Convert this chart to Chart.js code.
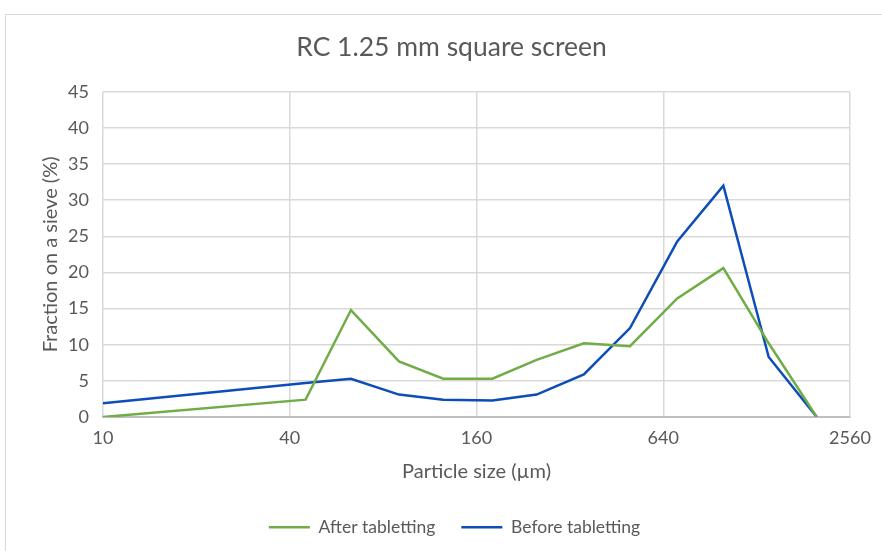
<!DOCTYPE html>
<html>
<head>
<meta charset="utf-8">
<script src="https://cdn.jsdelivr.net/npm/chart.js@4"></script>
<style>
body{margin:0;background:#fff;overflow:hidden;}
#frame{position:absolute;left:5px;top:14px;width:900px;height:560px;border:1px solid #d9d9d9;box-sizing:border-box;}
#wrap{position:absolute;left:0;top:0;width:882px;height:551px;}
</style>
</head>
<body>
<div id="frame"></div>
<div id="wrap"><canvas id="mychart"></canvas></div>
<script>
// particle sizes (um) on each sieve
var sizes=[10,45,63,90,125,180,250,355,500,710,1000,1400,2000]
var after=[0,2.4,14.8,7.7,5.3,5.3,7.9,10.2,9.8,16.4,20.6,10.2,0]
var before=[1.9,4.7,5.3,3.1,2.4,2.3,3.1,5.9,12.3,24.3,32,8.3,0]
var xTicks=[10,40,160,640,2560]

var font="Lato, 'Open Sans', sans-serif"
var grey="#595959"

function pts(vals){
  var out=[]
  for(var i=0;i<sizes.length;i++) out.push({x:sizes[i],y:vals[i]})
  return out
}

// excel centres title + legend on the whole frame, which runs past the window
var shiftBoxes={
  id:'shiftBoxes',
  afterLayout:function(c){
    if(c.titleBlock){ c.titleBlock.left+=24; c.titleBlock.right+=24 }
    if(c.legend){ c.legend.left+=27; c.legend.right+=27 }
  }
}

var ctx=document.getElementById('mychart').getContext('2d')
var chart=new Chart(ctx,{
  type:'line',
  data:{
    datasets:[
    {
      label:"After tabletting",
      data:pts(after),
      borderColor:"#70ad47",
      backgroundColor:"#70ad47",
      borderWidth:2.5,
      pointRadius:0,
      tension:0
    },
    {
      label:"Before tabletting",
      data:pts(before),
      borderColor:"#0c4db8",
      backgroundColor:"#0c4db8",
      borderWidth:2.5,
      pointRadius:0,
      tension:0
    }
    ]
  },
  options:{
    responsive:true,
    maintainAspectRatio:false,
    animation:false,
    layout:{padding:{left:5,right:32,top:0,bottom:5}},
    plugins:{
      title:{
        display:true,
        text:"RC 1.25 mm square screen",
        color:grey,
        font:{family:font,size:26.5,weight:'normal'},
        padding:{top:32,bottom:28}
      },
      legend:{
        position:'bottom',
        labels:{
          usePointStyle:true,
          pointStyle:'line',
          pointStyleWidth:41,
          color:grey,
          font:{family:font,size:17.5},
          padding:26
        }
      },
      tooltip:{enabled:false}
    },
    scales:{
      x:{
        type:'logarithmic',
        min:10,
        max:2560,
        afterBuildTicks:function(s){ s.ticks=xTicks.map(function(v){return {value:v}}) },
        afterFit:function(s){ s.height=75.5 },
        ticks:{
          color:grey,
          font:{family:font,size:18},
          padding:10,
          maxRotation:0,
          autoSkip:false,
          callback:function(v){ return String(v) }
        },
        grid:{color:"#d9d9d9",lineWidth:1.5,drawTicks:false},
        border:{color:"#bfbfbf",width:2},
        title:{
          display:true,
          text:"Particle size (µm)",
          color:grey,
          font:{family:font,size:20},
          padding:{top:0,bottom:9}
        }
      },
      y:{
        min:0,
        max:45,
        afterFit:function(s){ s.width=98 },
        ticks:{
          stepSize:5,
          color:grey,
          font:{family:font,size:18},
          padding:14
        },
        grid:{color:"#d9d9d9",lineWidth:1.5,drawTicks:false},
        border:{display:false},
        title:{
          display:true,
          text:"Fraction on a sieve (%)",
          color:grey,
          font:{family:font,size:20},
          padding:{top:34}
        }
      }
    }
  },
  plugins:[shiftBoxes]
})
</script>
</body>
</html>
